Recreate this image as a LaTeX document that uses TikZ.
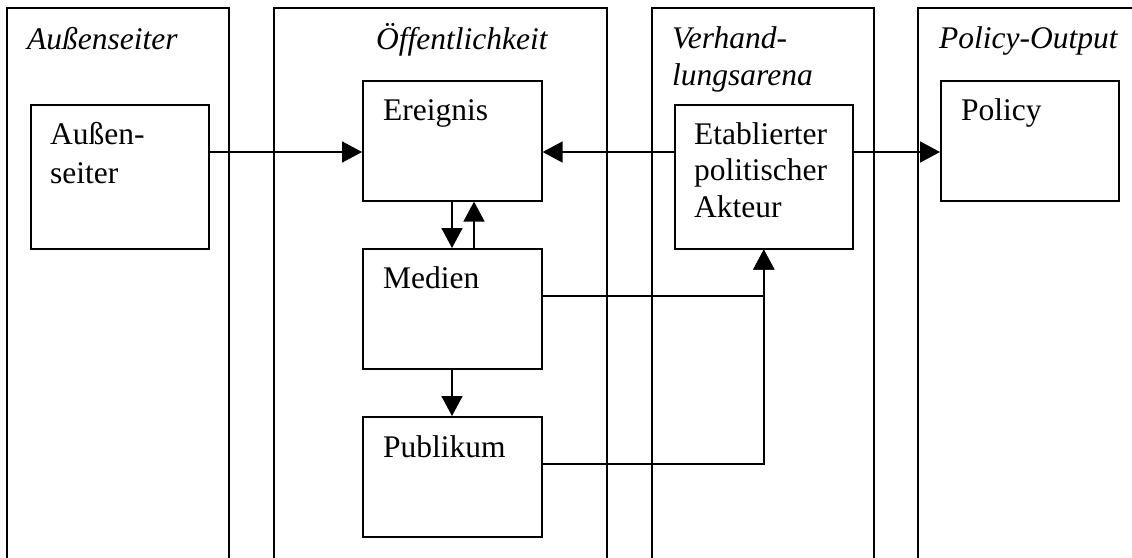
\documentclass[tikz,border=0pt]{standalone}
\usepackage{fontspec}
\setmainfont{Liberation Serif}
\usetikzlibrary{arrows.meta}
\begin{document}
\begin{tikzpicture}[x=1pt,y=-1pt,
  lw/.style={line width=1.6pt},
  col/.style={lw},
  box/.style={draw,lw,rectangle,inner sep=0pt,anchor=north west},
  txt/.style={anchor=base west,inner sep=0pt,font=\fontsize{31.5}{36}\selectfont},
  ttl/.style={txt,font=\fontsize{31.5}{36}\selectfont\itshape},
  arr/.style={lw,-{Triangle[length=20pt,width=21pt]}}]
\useasboundingbox (0,0) rectangle (1132,557);
% columns
\draw[col] (7,560) -- (7,8) -- (229,8) -- (229,560);
\draw[col] (274,560) -- (274,8) -- (607,8) -- (607,560);
\draw[col] (652,560) -- (652,8) -- (874,8) -- (874,560);
\draw[col] (918,560) -- (918,8) -- (1135,8);
% column titles
\node[ttl] (t1) at (27,49) {Außenseiter};
\node[ttl] (t2) at (376,49) {Öffentlichkeit};
\node[ttl] (t3a) at (672,48) {Verhand-};
\node[ttl] (t3b) at (672,85) {lungsarena};
\node[ttl] (t4) at (939,48) {Policy-Output};
% boxes
\node[box,minimum width=178pt,minimum height=144pt] (auss) at (30,104) {};
\node[box,minimum width=179pt,minimum height=120pt] (ereig) at (362,80) {};
\node[box,minimum width=179pt,minimum height=120pt] (medien) at (362,248) {};
\node[box,minimum width=179pt,minimum height=120pt] (publ) at (362,416) {};
\node[box,minimum width=178pt,minimum height=144pt] (etab) at (674,104) {};
\node[box,minimum width=178pt,minimum height=120pt] (policy) at (940,80) {};
% box texts
\node[txt] (a1) at (50,144) {Außen-};
\node[txt] (a2) at (50,183) {seiter};
\node[txt] (e1) at (383,120) {Ereignis};
\node[txt] (m1) at (383,288) {Medien};
\node[txt] (p1) at (383,457) {Publikum};
\node[txt] (b1) at (694,144) {Etablierter};
\node[txt] (b2) at (694,180.5) {politischer};
\node[txt] (b3) at (694,217) {Akteur};
\node[txt] (q1) at (961,120) {Policy};
% connector levels
\coordinate (yA) at (0,152);
\coordinate (yM) at (0,296);
\coordinate (yP) at (0,464);
\coordinate (xD) at (452,0);
\coordinate (xU) at (474,0);
% connectors
\draw[arr] (auss.east |- yA) -- (ereig.west |- yA);
\draw[arr] (etab.west |- yA) -- (ereig.east |- yA);
\draw[arr] (etab.east |- yA) -- (policy.west |- yA);
\draw[arr] (ereig.south -| xD) -- (medien.north -| xD);
\draw[arr] (medien.north -| xU) -- (ereig.south -| xU);
\draw[arr] (medien.south -| xD) -- (publ.north -| xD);
\draw[arr] (medien.east |- yM) -| (etab.south);
\draw[arr] (publ.east |- yP) -| (etab.south);
\end{tikzpicture}
\end{document}
